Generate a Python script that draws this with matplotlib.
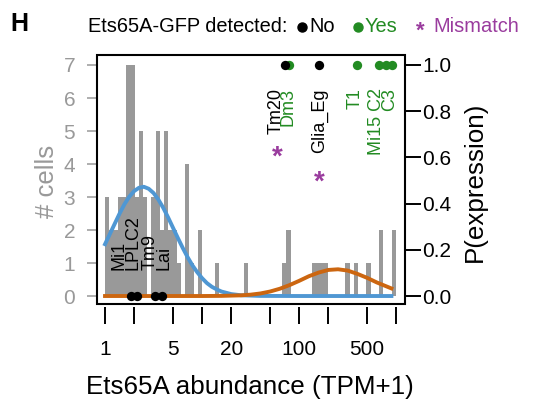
import numpy as np
import matplotlib
matplotlib.use('Agg')
import matplotlib.pyplot as plt
from matplotlib.lines import Line2D
from matplotlib.patches import Rectangle
from matplotlib.ticker import NullLocator

plt.rcParams['font.family'] = ['Liberation Sans', 'DejaVu Sans']

# histogram of cells: bins of 0.1 in ln(TPM+1), first bin starts at TPM+1 = 1
bin_width_ln = 0.1
cell_counts = [3, 2, 2, 3, 3, 7, 7, 3, 5, 3,
               0, 3, 5, 2, 5, 2, 2, 1, 0, 4,
               1, 0, 2, 0, 0, 0, 1, 0, 0, 0,
               0, 0, 0, 1, 0, 0, 0, 0, 0, 0,
               0, 0, 1, 2, 0, 0, 0, 0, 0, 1,
               1, 1, 1, 0, 0, 0, 0, 1, 0, 1,
               0, 0, 1, 0, 0, 2, 0, 0, 2]

# fitted curves (in # cells)
blue_x = [1, 1.122, 1.259, 1.413, 1.585, 1.778, 1.995, 2.239, 2.512, 2.818,
          3.162, 3.548, 3.981, 4.467, 5.012, 5.623, 6.310, 7.079, 7.943, 8.913,
          10.0, 11.22, 12.59, 14.13, 15.85, 19.95, 25.12, 39.81, 100, 316, 891]
blue_y = [1.57, 1.88, 2.19, 2.50, 2.78, 3.01, 3.18, 3.28, 3.31, 3.25,
          3.12, 2.92, 2.67, 2.38, 2.07, 1.76, 1.46, 1.18, 0.93, 0.72,
          0.54, 0.39, 0.28, 0.20, 0.135, 0.058, 0.023, 0.003, 0, 0, 0]
orange_x = [1, 10, 15.85, 25.12, 31.62, 39.81, 50.12, 63.10, 79.43, 100,
            125.9, 158.5, 199.5, 251.2, 316.2, 398.1, 501.2, 631.0, 794.3, 891]
orange_y = [0, 0, 0.004, 0.02, 0.041, 0.077, 0.136, 0.22, 0.33, 0.46,
            0.60, 0.71, 0.79, 0.81, 0.77, 0.67, 0.55, 0.41, 0.29, 0.23]

# cell types: Ets65A-GFP detected (1) or not (0)
no_tpm = [1.84, 2.13, 3.31, 3.90, 71.7, 160.8]
no_p = [0, 0, 0, 0, 1, 1]
yes_tpm = [79.4, 393, 657, 789, 899]
yes_p = [1, 1, 1, 1, 1]

low_labels = ['Mi1', 'LPLC2', 'Tm9', 'Lai']
low_label_x = [1.39, 1.94, 2.91, 4.06]
top_labels = ['Tm20', 'Dm3', 'Glia_Eg', 'T1', 'Mi15 C2', 'C3']
top_label_x = [58, 76, 161, 378, 622, 847]
top_label_yes = [False, True, False, True, True, True]
mismatch_x = [59.3, 161]
mismatch_p = [0.64, 0.53]

x_ticks = [1, 2, 5, 10, 20, 50, 100, 200, 500, 1000]
x_ticklabels = ['1', '', '5', '', '20', '', '100', '', '500', '']

GRAY = '#999999'
BLUE = '#4F97D3'
ORANGE = '#CC6610'
GREEN = '#228B22'
PURPLE = '#9A3C9E'

W, H = 557, 401
fig = plt.figure(figsize=(W / 100, H / 100), dpi=100)
ax = fig.add_axes([96.7 / W, 1 - 304 / H, (404.5 - 96.7) / W, (304 - 55) / H])
ax.set_xscale('log')
ax2 = ax.twinx()

edges = np.exp(bin_width_ln * np.arange(len(cell_counts) + 1))
ax.bar(edges[:-1], cell_counts, width=np.diff(edges), align='edge',
       color=GRAY, lw=0)
ax.plot(blue_x, blue_y, color=BLUE, lw=2.8)
ax.plot(orange_x, orange_y, color=ORANGE, lw=2.8)

ax.set_xlim(0.821, 1215)
ax.set_ylim(-0.242, 7.303)
ax2.set_ylim(-0.242 / 7, 7.303 / 7)

ax.set_xticks(x_ticks)
ax.set_xticklabels(x_ticklabels)
ax.xaxis.set_minor_locator(NullLocator())
ax.tick_params(axis='x', length=12.5, width=1.4, pad=11, labelsize=15)
ax.spines['bottom'].set_position(('outward', 2.2))

ax.set_yticks(range(8))
ax.tick_params(axis='y', colors=GRAY, length=7.5, width=1.1, pad=8, labelsize=15)
ax2.set_yticks([0, 0.2, 0.4, 0.6, 0.8, 1.0])
ax2.set_yticklabels(['0.0', '0.2', '0.4', '0.6', '0.8', '1.0'])
ax2.tick_params(axis='y', length=11.5, width=1.4, pad=1.5, labelsize=15)

for a in (ax, ax2):
    for s in a.spines.values():
        s.set_visible(False)
ax.add_patch(Rectangle((0, 0), 1, 1, transform=ax.transAxes, fill=False,
                       lw=1.5, ec='black', clip_on=False, zorder=5))

ax2.scatter(yes_tpm, yes_p, s=45, color=GREEN, lw=0, zorder=3, clip_on=False)
ax2.scatter(no_tpm, no_p, s=45, color='black', lw=0, zorder=4, clip_on=False)

for lab, x in zip(low_labels, low_label_x):
    ax2.text(x, 0.1126, lab, rotation=90, ha='center', va='bottom', fontsize=13)
for lab, x, yes in zip(top_labels, top_label_x, top_label_yes):
    ax2.text(x, 0.90, lab, rotation=90, ha='center', va='top', fontsize=13,
             color=GREEN if yes else 'black')
for x, p in zip(mismatch_x, mismatch_p):
    ax2.annotate('*', (x, p), xytext=(0, -11.6), textcoords='offset points',
                 ha='center', va='baseline', fontsize=20, fontweight='bold',
                 color=PURPLE)

# legend row
fig.text(10 / W, 1 - 24 / H, 'H', fontsize=18, fontweight='bold', va='center', ha='left')
fig.text(88 / W, 1 - 32.5 / H, 'Ets65A-GFP detected:', fontsize=14.4, va='baseline')
fig.add_artist(Line2D([301.7 / W], [1 - 26.5 / H], marker='o', color='black', ms=6.5,
                      lw=0, transform=fig.transFigure))
fig.text(309 / W, 1 - 32.5 / H, 'No', fontsize=14.4, va='baseline')
fig.add_artist(Line2D([358 / W], [1 - 26.5 / H], marker='o', color=GREEN, ms=6.5,
                      lw=0, transform=fig.transFigure))
fig.text(365 / W, 1 - 32.5 / H, 'Yes', fontsize=14.4, va='baseline', color=GREEN)
fig.text(420.7 / W, 1 - 36.5 / H, '*', fontsize=16, fontweight='bold', va='baseline',
         ha='center', color=PURPLE)
fig.text(433 / W, 1 - 32.5 / H, 'Mismatch', fontsize=14.4, va='baseline', color=PURPLE)

fig.text(250 / W, 1 - 387 / H, 'Ets65A abundance (TPM+1)', fontsize=18.7,
         ha='center', va='center')
fig.text(47.5 / W, 1 - 181 / H, '# cells', rotation=90, color=GRAY, fontsize=18.5,
         ha='center', va='center')
fig.text(475 / W, 1 - 181.5 / H, 'P(expression)', rotation=90, fontsize=18.7,
         ha='center', va='center')

fig.savefig('out.png', dpi=100)
